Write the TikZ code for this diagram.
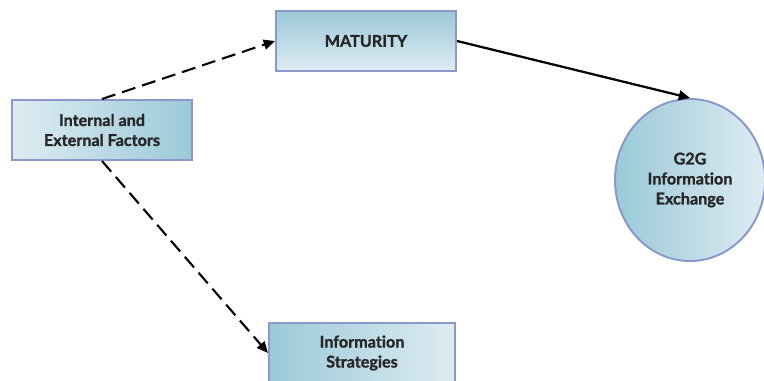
\documentclass[tikz,border=0pt]{standalone}
\usepackage{fontspec}
\setmainfont{Lato}[Ligatures={NoCommon}, BoldFeatures={FakeBold=1.2}]
\usepackage{tikz}
\usetikzlibrary{arrows.meta, positioning, shapes.geometric}
\usepackage{xcolor}
\definecolor{boxdark}{RGB}{155,201,216}
\definecolor{boxlight}{RGB}{222,236,242}
\definecolor{boxline}{RGB}{140,152,204}
\tikzset{%
	every factor/.style={
		draw=boxline,
		line width=1.4pt,
		minimum width=4.5cm,
		minimum height=1.5cm,
		align=center,
		font=\bfseries\fontsize{11.5}{14.2}\selectfont,
		text=black!85
	},
	dash link/.style={
		-{Triangle[length=8pt, width=7pt]},
		line width=1.5pt,
		dash pattern=on 10pt off 5pt
	},
	solid link/.style={
		-{Triangle[length=8pt, width=7pt]},
		line width=1.6pt
	},
}

\begin{document}
\begin{tikzpicture}[x=0.025cm, y=-0.025cm]
				\clip (0,0) rectangle (764,381);
				% Factors
				\node[rectangle, every factor,
				shading=axis, shading angle=-60,
				left color=boxlight, right color=boxdark
				] (Factors) at (102,130) {Internal and\\External Factors};
				% Maturity
				\node[rectangle, every factor,
				top color=boxdark, bottom color=boxlight
				] (Maturity) at (366,41) {MATURITY};
				% Strategies
				\node[rectangle, every factor,
				minimum width=4.65cm,
				shading=axis, shading angle=120,
				left color=boxdark, right color=boxlight
				] (Strategies) at (362,353) {Information\\Strategies};
				% Exchange
				\node[ellipse, every factor,
				minimum width=3.75cm,
				minimum height=4.05cm,
				left color=boxdark, right color=boxlight
				] (Exchange) at (690,180) {G2G\\Information\\Exchange};
				% Connect factors
				\draw[dash link] (Factors.north) -- (Maturity.west);
				\draw[dash link] (Factors.south) -- (Strategies.west);
				% Maturity to exchange
				\draw[solid link] (Maturity.east) -- (Exchange.north);
			\end{tikzpicture}
\end{document}
